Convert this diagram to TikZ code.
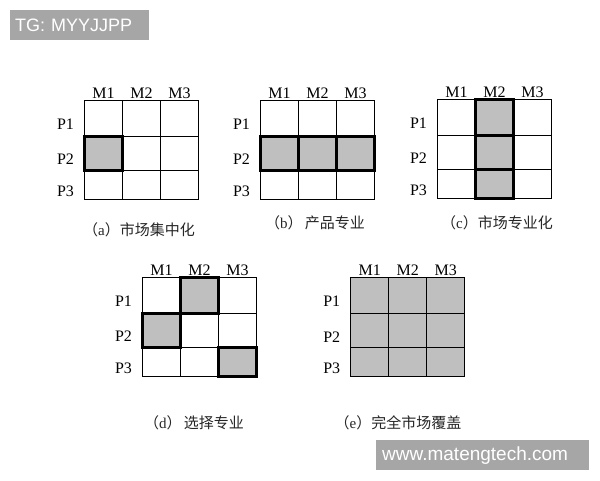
\documentclass[tikz,border=0pt]{standalone}
\usepackage{fontspec}
\setmainfont{Liberation Serif}
\newfontfamily\cjk{Noto Sans CJK SC}
\newfontfamily\wmsans{Liberation Sans}
\usetikzlibrary{matrix}

\tikzset{
	grid/.style={matrix of nodes, nodes in empty cells, anchor=north west,
		inner sep=0pt, outer sep=0pt, row sep=-1pt, column sep=-1pt,
		nodes={draw, line width=1pt, minimum width=38pt, inner sep=0pt, outer sep=0pt, anchor=center},
		row 1/.style={nodes={minimum height=36pt}},
		row 2/.style={nodes={minimum height=34pt}},
		row 3/.style={nodes={minimum height=29pt}}},
	on/.style={fill=gray!50},
	hl/.style={draw, line width=2.4pt},
	lbl/.style={font=\fontsize{16}{18}\selectfont},
	captxt/.style={font=\fontsize{15}{17}\selectfont, text=black!85},
	wm/.style={anchor=north west, fill=black!35, text=white, minimum height=30pt,
		inner xsep=5pt, inner ysep=0pt, align=left}
}

\begin{document}
\begin{tikzpicture}[x=1pt, y=-1pt]
\path[use as bounding box, fill=white] (0,0) rectangle (600,480);

\matrix (ma) [grid] at (84,100)
{
	& & \\
	|[on]| & & \\
	& & \\
};
\matrix (mb) [grid] at (260,100)
{
	& & \\
	|[on]| & |[on]| & |[on]| \\
	& & \\
};
\matrix (mc) [grid] at (437,99)
{
	& |[on]| & \\
	& |[on]| & \\
	& |[on]| & \\
};
\matrix (md) [grid] at (142,277)
{
	& |[on]| & \\
	|[on]| & & \\
	& & |[on]| \\
};
\matrix (me) [grid, row sep=-1.4pt, column sep=-1.4pt,
	nodes={fill=gray!50, line width=1.4pt}] at (350,277)
{
	& & \\
	& & \\
	& & \\
};

% heavy outline round the chosen cells
\foreach \c in {ma-2-1, mb-2-1, mb-2-2, mb-2-3, mc-1-2, mc-2-2, mc-3-2, md-1-2, md-2-1, md-3-3}
	\draw[hl] (\c.north west) rectangle (\c.south east);

\foreach \g in {ma,mb,mc,md,me} {
	\foreach \j in {1,2,3}
		\node[lbl, anchor=base] (\g-m\j) at ([yshift=2pt]\g-1-\j.north) {M\j};
	\foreach \i in {1,2,3}
		\node[lbl, anchor=east] (\g-p\i) at ([shift={(-7pt,-6pt)}]\g-\i-1.west) {P\i};
}

\node[captxt] (capa) at (139,230) {{\cjk （}a{\cjk ）市场集中化}};
\node[captxt] (capb) at (315,223) {{\cjk （}b{\cjk ）\,产品专业}};
\node[captxt] (capc) at (497,223) {{\cjk （}c{\cjk ）市场专业化}};
\node[captxt] (capd) at (194,423) {{\cjk （}d{\cjk ）\,选择专业}};
\node[captxt] (cape) at (398,423) {{\cjk （}e{\cjk ）完全市场覆盖}};

\node[wm, text width=129pt, font=\wmsans\fontsize{18}{20}\selectfont] (tg) at (10,10) {TG: MYYJJPP};
\node[wm, text width=201pt, inner xsep=6pt, font=\wmsans\fontsize{19}{21}\selectfont] (site) at (376,440) {www.matengtech.com};
\end{tikzpicture}
\end{document}
